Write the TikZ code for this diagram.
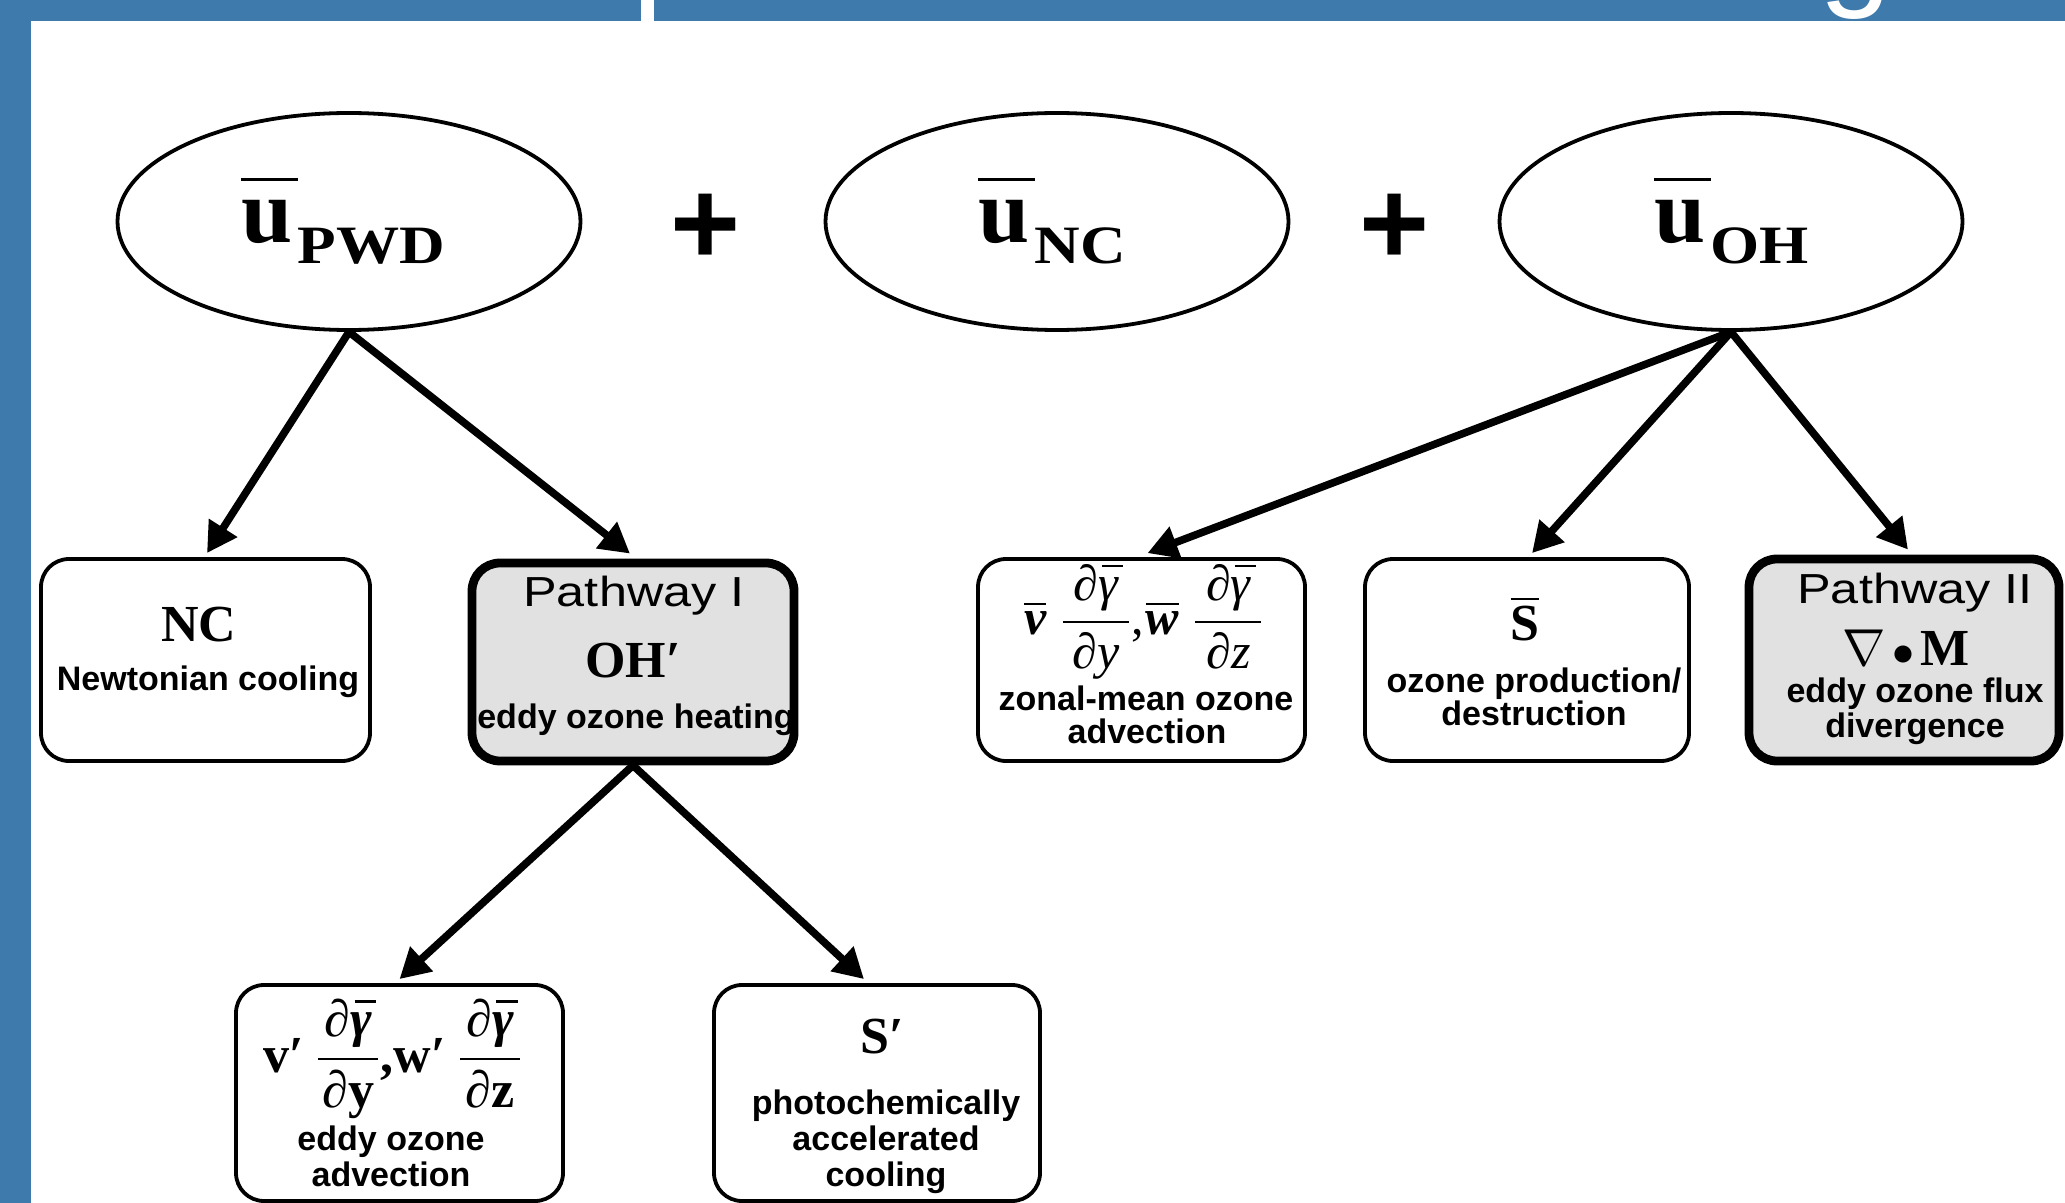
\RequirePackage{fix-cm}
\documentclass[tikz,border=0pt]{standalone}
\usepackage{exscale}
\usepackage{fontspec}
\usepackage{graphicx}
\setmainfont{Liberation Sans}
\newfontfamily\tms{Liberation Serif}
\newfontfamily\pwf{Liberation Sans}[FakeStretch=1.2]
\usetikzlibrary{arrows.meta,shapes.geometric,calc}
\definecolor{framec}{RGB}{63,122,173}
\definecolor{boxgray}{RGB}{225,225,225}
\newcommand\ubar{\rlap{\raisebox{31pt}{\rule{28.5pt}{1.6pt}}}u}
\newcommand\subs[1]{\hspace{2.5pt}\raisebox{-10.5pt}{\fontsize{27}{27}\selectfont\scalebox{1.17}[1]{#1}}}
\newcommand\myfr[4]{{\displaystyle{\hbox to #1{\hss#2\hss}\above#4\hbox to #1{\hss#3\hss}}}}
\newcommand\gbar{\rlap{\hspace{0.08em}\raisebox{0.66em}{\rule{0.42em}{0.05em}}}γ}
\begin{document}
\begin{tikzpicture}[x=0.5pt,y=-0.5pt,
  ell/.style={ellipse, draw, line width=1.9pt, minimum width=231.5pt, minimum height=108.5pt, inner sep=0},
  bx/.style={draw, rounded corners=14pt, line width=1.9pt, inner sep=0, fill=white},
  pbx/.style={bx, line width=4.4pt, fill=boxgray},
  txt/.style={inner sep=0, anchor=base, font=\bfseries\fontsize{17}{17}\selectfont},
  ptxt/.style={inner sep=0, anchor=base, font=\pwf\fontsize{21}{21}\selectfont},
  sym/.style={inner sep=0, anchor=base, font=\tms\bfseries\fontsize{26}{26}\selectfont},
  ulab/.style={inner sep=0, anchor=base west, font=\tms\bfseries\fontsize{46}{46}\selectfont},
  plus/.style={inner sep=0, font=\bfseries\fontsize{60}{60}\selectfont},
  arr/.style={line width=3.8pt, -{Triangle[length=15pt,width=16pt]}}]
\useasboundingbox (0,0) rectangle (2065,1203);
% frame
\fill[framec] (0,0) rectangle (2065,21);
\fill[framec] (0,0) rectangle (31,1203);
\fill[white] (641,0) rectangle (654,21);
\begin{scope}
\clip (1780,0) rectangle (1950,21);
\node[inner sep=0, anchor=base, text=white, font=\fontsize{65}{65}\selectfont] (gtitle) at (1856,-7) {g};
\end{scope}
% ellipses
\node[ell] (pwd) at (349,221.5) {};
\node[ell] (unc) at (1057,221.5) {};
\node[ell] (oh) at (1731,221.5) {};
\node[ulab] (lpwd) at (241,243) {\ubar\subs{PWD}};
\node[ulab] (lnc) at (978,243) {\ubar\subs{NC}};
\node[ulab] (loh) at (1654,243) {\ubar\subs{OH}};
\node[plus] (plus1) at (706,229) {+};
\node[plus] (plus2) at (1395,229) {+};
% boxes
\node[bx, minimum width=164.5pt, minimum height=101pt] (nc) at (205.5,660) {};
\node[pbx, minimum width=161pt, minimum height=99pt] (p1) at (633,662) {};
\node[bx, minimum width=163.5pt, minimum height=101pt] (zm) at (1141.5,660) {};
\node[bx, minimum width=162pt, minimum height=101pt] (sb) at (1527,660) {};
\node[pbx, minimum width=155pt, minimum height=101pt] (p2) at (1904,660) {};
\node[bx, minimum width=163.5pt, minimum height=108pt] (ea) at (399.5,1093) {};
\node[bx, minimum width=163pt, minimum height=108pt] (sp) at (877,1093) {};
% box texts
\node[sym] (ncs) at (199,641) {NC};
\node[txt] (nct) at (208,690) {Newtonian cooling};
\node[ptxt] (p1t) at (634,606) {Pathway I};
\node[sym] (p1s) at (633,677) {OH′};
\node[txt] (p1d) at (636,728) {eddy ozone heating};
\node[inner sep=0, anchor=base, font=\tms\fontsize{25}{25}\selectfont] (zmf) at (1144,634)
  {$\overline{\mbox{\bfseries\itshape v}}\hspace{7pt}\myfr{33pt}{\itshape ∂\gbar}{\itshape ∂y}{1pt}\mbox{,}\hspace{1pt}\overline{\mbox{\bfseries\itshape w}}\hspace{7pt}\myfr{33pt}{\itshape ∂\gbar}{\itshape ∂z}{1pt}$};
\node[txt] (zm1) at (1146,710) {zonal-mean ozone};
\node[txt] (zm2) at (1147,743) {advection};
\node[sym] (sbs) at (1525,640) {$\overline{\mbox{S}}$};
\node[txt] (sb1) at (1534,692) {ozone production/};
\node[txt] (sb2) at (1534,725) {destruction};
\node[ptxt] (p2t) at (1915,603) {Pathway II};
\node[sym] (p2s) at (1906,665) {{\fontsize{26}{26}\selectfont$\nabla$}\hspace{3pt}{\fontsize{22}{22}\selectfont$\bullet$}\hspace{3pt}M};
\node[txt] (p2a) at (1915,702) {eddy ozone flux};
\node[txt] (p2b) at (1915,737) {divergence};
\node[inner sep=0, anchor=base, font=\tms\bfseries\fontsize{26}{26}\selectfont] (eaf) at (393,1072)
  {$\mbox{v′}\hspace{6pt}\myfr{30pt}{\itshape ∂\gbar}{\itshape ∂\upshape y}{1.2pt}\mbox{,}\mbox{w′}\hspace{6pt}\myfr{30pt}{\itshape ∂\gbar}{\itshape ∂\upshape z}{1.2pt}$};
\node[txt] (ea1) at (391,1150) {eddy ozone};
\node[txt] (ea2) at (391,1186) {advection};
\node[sym] (sps) at (882,1053) {S′};
\node[txt] (sp1) at (886,1114) {photochemically};
\node[txt] (sp2) at (886,1150) {accelerated};
\node[txt] (sp3) at (886,1186) {cooling};
% arrows
\draw[arr] (pwd.south) -- ([xshift=0.75pt,yshift=2pt]nc.north);
\draw[arr] (pwd.south) -- ([xshift=-1.5pt,yshift=2.5pt]p1.north);
\draw[arr] (oh.south) -- ([xshift=3pt,yshift=2pt]zm.north);
\draw[arr] (oh.south) -- ([xshift=2.5pt,yshift=2pt]sb.north);
\draw[arr] (oh.south) -- ([xshift=2pt,yshift=2.5pt]p2.north);
\draw[arr] (p1.south) -- ([yshift=2pt]ea.north);
\draw[arr] (p1.south) -- ([xshift=-6.5pt,yshift=2pt]sp.north);
\end{tikzpicture}
\end{document}
